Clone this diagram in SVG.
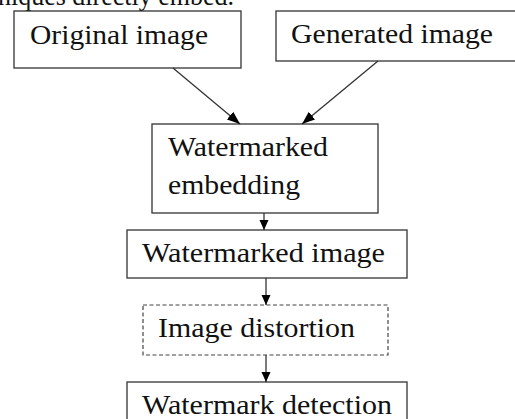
<svg xmlns="http://www.w3.org/2000/svg" width="515" height="419" viewBox="0 0 515 419">
<style>
.box{fill:#fff;stroke:#333;stroke-width:1.3}
.dash{fill:#fff;stroke:#444;stroke-width:1.2;stroke-dasharray:4 2.5}
.t{font-family:"Liberation Serif","Times New Roman",serif;font-size:27px;fill:#111}
.c{stroke:#333;stroke-width:1.3;fill:none;marker-end:url(#ah)}
.d{stroke:#333;stroke-width:1.3;fill:none;marker-end:url(#ah2)}
</style>
<defs>
<marker id="ah" markerWidth="10" markerHeight="11" refX="10" refY="4.5" orient="auto" markerUnits="userSpaceOnUse" viewBox="0 0 10 9">
<path d="M0,0 L10,4.5 L0,9 Z" fill="#000"/>
</marker>
<marker id="ah2" markerWidth="13" markerHeight="11" refX="13" refY="5" orient="auto" markerUnits="userSpaceOnUse" viewBox="0 0 13 10">
<path d="M0,0 L13,5 L0,10 Z" fill="#000"/>
</marker>
</defs>
<rect width="515" height="419" fill="#fff"/>
<text class="t" x="-2" y="5" textLength="236" lengthAdjust="spacingAndGlyphs">niques directly embed.</text>
<g id="original">
<rect class="box" x="14" y="11" width="227" height="57"/>
<text class="t" x="30" y="44" textLength="178" lengthAdjust="spacingAndGlyphs">Original image</text>
</g>
<g id="generated">
<rect class="box" x="276" y="11" width="250" height="50"/>
<text class="t" x="291" y="43" textLength="202" lengthAdjust="spacingAndGlyphs">Generated image</text>
</g>
<g id="embedding">
<rect class="box" x="152" y="124" width="226" height="89"/>
<text class="t" x="168" y="156" textLength="160" lengthAdjust="spacingAndGlyphs">Watermarked</text>
<text class="t" x="168" y="194" textLength="132" lengthAdjust="spacingAndGlyphs">embedding</text>
</g>
<g id="watermarked-image">
<rect class="box" x="127" y="230" width="280" height="48"/>
<text class="t" x="142" y="262" textLength="243" lengthAdjust="spacingAndGlyphs">Watermarked image</text>
</g>
<g id="distortion">
<rect class="dash" x="143" y="305" width="245" height="50"/>
<text class="t" x="158" y="337" textLength="197" lengthAdjust="spacingAndGlyphs">Image distortion</text>
</g>
<g id="detection">
<rect class="box" x="127" y="382" width="280" height="50"/>
<text class="t" x="142" y="414" textLength="250" lengthAdjust="spacingAndGlyphs">Watermark detection</text>
</g>
<g id="connectors">
<line class="d" x1="173" y1="68" x2="240" y2="124"/>
<line class="d" x1="378" y1="61" x2="302" y2="124"/>
<line class="c" x1="264" y1="213" x2="264" y2="230"/>
<line class="c" x1="266" y1="278" x2="266" y2="305"/>
<line class="c" x1="266" y1="355" x2="266" y2="382"/>
</g>
</svg>
